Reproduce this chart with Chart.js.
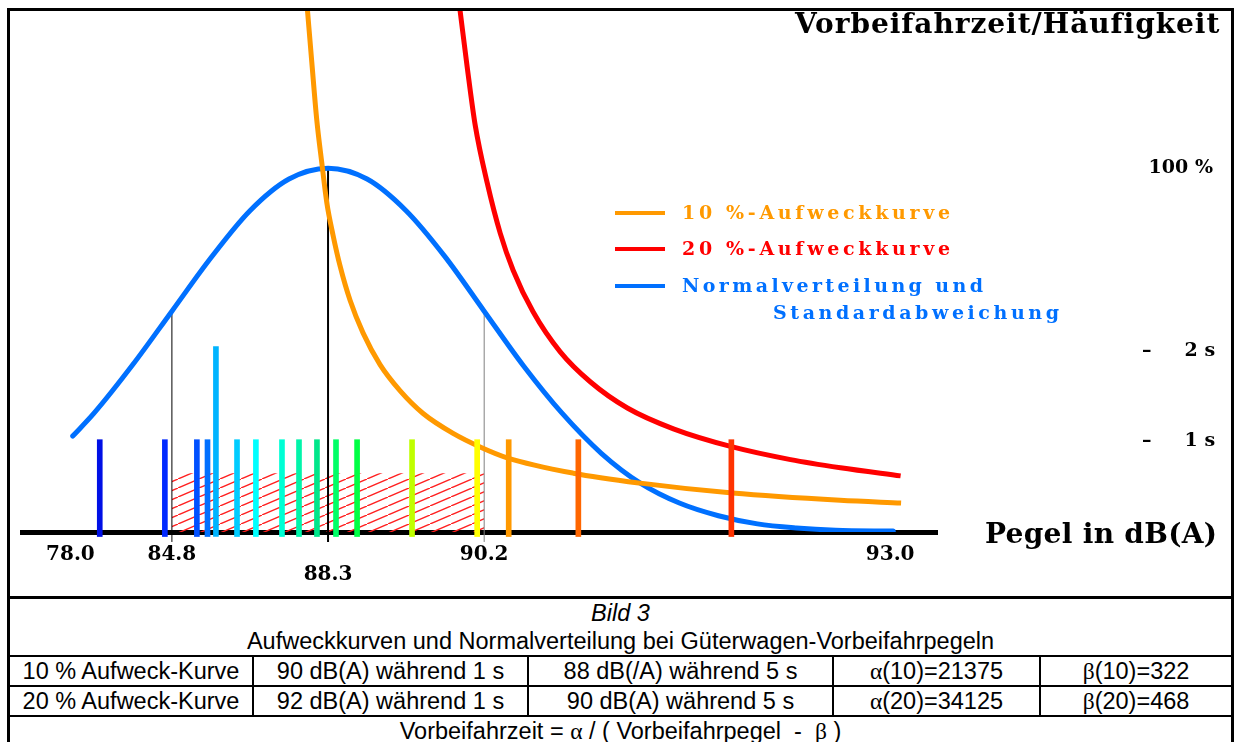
<!DOCTYPE html>
<html>
<head>
<meta charset="utf-8">
<script src="https://cdn.jsdelivr.net/npm/chart.js@4.4.0/dist/chart.umd.min.js"></script>
<style>
  body { margin: 0; background: #fff; }
  #frame { position: absolute; left: 7px; top: 8px; width: 1221px; border: 3px solid #000; border-bottom: none; }
  #plot { display: block; }
  table { border-collapse: collapse; width: 1221px; table-layout: fixed; font-family: "Liberation Sans", Arial, sans-serif; font-size: 23.5px; }
  td { border: 2px solid #000; text-align: center; padding: 0; white-space: nowrap; overflow: hidden; }
  td:first-child { border-left: none; }
  td:last-child { border-right: none; }
  tr:first-child td { border-top: 3px solid #000; }
  .gr { font-family: "Liberation Serif", serif; }
</style>
</head>
<body>
<div id="frame">
  <canvas id="plot" width="1221" height="585"></canvas>
  <table>
    <colgroup><col style="width:243px"><col style="width:275px"><col style="width:305px"><col style="width:207px"><col style="width:191px"></colgroup>
    <tr><td colspan="5" style="height:53px; line-height:28px;"><i>Bild 3</i><br>Aufweckkurven und Normalverteilung bei Güterwagen-Vorbeifahrpegeln</td></tr>
    <tr><td style="height:28px">10 % Aufweck-Kurve</td><td>90 dB(A) während 1 s</td><td>88 dB(/A) während 5 s</td><td><span class="gr">α</span>(10)=21375</td><td><span class="gr">β</span>(10)=322</td></tr>
    <tr><td style="height:28px">20 % Aufweck-Kurve</td><td>92 dB(A) während 1 s</td><td>90 dB(A) während 5 s</td><td><span class="gr">α</span>(20)=34125</td><td><span class="gr">β</span>(20)=468</td></tr>
    <tr><td colspan="5" style="height:28px">Vorbeifahrzeit = <span class="gr">α</span> / ( Vorbeifahrpegel &nbsp;- &nbsp;<span class="gr">β</span> )</td></tr>
  </table>
</div>
<script>
// x: level in standard deviations from the mean (88.3 dB(A)), y: pass-by time in s
const xTickPos = [-1.65, -1.0, 0, 1.0, 3.6];
const xTickLabels = ['78.0', '84.8', '88.3', '90.2', '93.0'];
const yTickPos = [1, 2, 4.02];
const yTickLabels = ['–     1 s', '–     2 s', ' 100 %'];

// normal distribution (peak = 100 %)
const normalX = [-1.635, -1.5, -1.25, -1, -0.75, -0.5, -0.25, 0, 0.25, 0.5, 0.75, 1, 1.25, 1.5, 1.75, 2, 2.25, 2.5, 2.75, 3, 3.25, 3.62];
const normalY = [1.06, 1.31, 1.85, 2.44, 3.03, 3.55, 3.90, 4.02, 3.90, 3.55, 3.04, 2.44, 1.84, 1.31, 0.87, 0.54, 0.32, 0.18, 0.09, 0.045, 0.02, 0.01];

// 10 % wake-up curve
const wake10X = [-0.132, -0.104, -0.072, -0.04, -0.008, 0.032, 0.077, 0.141, 0.224, 0.333, 0.462, 0.609, 0.801, 0.974, 1.147, 1.571, 2.0, 2.59, 3.28, 3.67];
const wake10Y = [5.77, 5.19, 4.55, 4.08, 3.64, 3.28, 2.94, 2.56, 2.2, 1.85, 1.56, 1.31, 1.09, 0.94, 0.82, 0.65, 0.54, 0.43, 0.35, 0.32];

// 20 % wake-up curve
const wake20X = [0.845, 0.891, 0.942, 1.019, 1.103, 1.186, 1.314, 1.487, 1.679, 1.917, 2.212, 2.59, 2.962, 3.282, 3.667];
const wake20Y = [5.77, 5.14, 4.50, 3.86, 3.30, 2.89, 2.43, 1.99, 1.66, 1.37, 1.14, 0.94, 0.80, 0.71, 0.62];

// single pass-by levels
const barX = [-1.462, -1.045, -0.84, -0.772, -0.718, -0.583, -0.462, -0.295, -0.186, -0.071, 0.051, 0.186, 0.538, 0.955, 1.157, 1.603, 2.583];
const barTop = [1.02, 1.02, 1.02, 1.02, 2.05, 1.02, 1.02, 1.02, 1.02, 1.02, 1.02, 1.02, 1.02, 1.02, 1.02, 1.02, 1.02];
const barColors = ['#0010e6', '#0028ff', '#0050ff', '#0070ff', '#00b4ff', '#00ccff', '#00ffff', '#00ffd5', '#00f5aa', '#00e68a', '#00ff66', '#00ff44', '#bfff00', '#ffff00', '#ff9900', '#ff6600', '#ff3300'];
const barBottom = -0.05;

// mean and +/- one standard deviation
const sigmaX = [-1, 0, 1];
const sigmaTop = [2.43, 4.02, 2.43];
const lineBottom = -0.11;

// hatched range mean +/- sigma
const hatchX = [-1, 1];
const hatchTop = 0.65;

function pts(xs, ys) {
  return xs.map((x, i) => ({ x: x, y: ys[i] }));
}

function hatchPattern() {
  const c = document.createElement('canvas');
  c.width = 21;
  c.height = 9;
  const g = c.getContext('2d');
  g.strokeStyle = '#ff2020';
  g.lineWidth = 1.4;
  g.beginPath();
  g.moveTo(0, 9);
  g.lineTo(21, 0);
  g.stroke();
  return g.createPattern(c, 'repeat');
}

const ctx = document.getElementById('plot').getContext('2d');

const datasets = [
  {
    type: 'bar',
    data: barX.map((x, i) => ({ x: x, y: [barBottom, barTop[i]] })),
    backgroundColor: barColors,
    barThickness: 5,
    clip: false,
    order: 0
  },
  { data: pts(wake20X, wake20Y), borderColor: '#ff0000', borderWidth: 5, cubicInterpolationMode: 'monotone', order: 1 },
  { data: pts(wake10X, wake10Y), borderColor: '#ff9900', borderWidth: 5, cubicInterpolationMode: 'monotone', order: 2 },
  { data: pts(normalX, normalY), borderColor: '#0070ff', borderWidth: 5, borderCapStyle: 'round', cubicInterpolationMode: 'monotone', order: 3 }
];

sigmaX.forEach((x, i) => {
  datasets.push({
    data: [{ x: x, y: lineBottom }, { x: x, y: sigmaTop[i] }],
    borderColor: x > 0 ? '#808080' : '#000',
    borderWidth: x === 0 ? 2 : 1,
    clip: false,
    order: 4
  });
});

datasets.push({
  data: hatchX.map(x => ({ x: x, y: hatchTop })),
  borderWidth: 0,
  borderColor: 'rgba(0,0,0,0)',
  backgroundColor: hatchPattern(),
  fill: 'origin',
  order: 5
});

function spacedText(c, text, left, cy, width, font, color) {
  c.save();
  c.font = font;
  c.fillStyle = color;
  c.textAlign = 'left';
  c.textBaseline = 'middle';
  c.letterSpacing = '0px';
  const w = c.measureText(text).width;
  c.letterSpacing = ((width - w) / (text.length - 1)) + 'px';
  c.fillText(text, left, cy);
  c.restore();
}

const legendItems = [
  { lines: ['10 %-Aufweckkurve'], color: '#ff9900' },
  { lines: ['20 %-Aufweckkurve'], color: '#ff0000' },
  { lines: ['Normalverteilung und', 'Standardabweichung'], color: '#0070ff' }
];

const annotations = {
  id: 'annotations',
  afterDraw(chart) {
    const c = chart.ctx;
    spacedText(c, 'Vorbeifahrzeit/Häufigkeit', 785, 15, 422, 'bold 28px "DejaVu Serif"', '#000');
    spacedText(c, 'Pegel in dB(A)', 975, 525, 232, 'bold 28px "DejaVu Serif"', '#000');

    const rows = [202, 238, 275];
    legendItems.forEach((item, i) => {
      c.save();
      c.strokeStyle = item.color;
      c.lineWidth = 4;
      c.beginPath();
      c.moveTo(605, rows[i]);
      c.lineTo(655, rows[i]);
      c.stroke();
      c.restore();
    });
    const font = 'bold 19px "DejaVu Serif"';
    spacedText(c, legendItems[0].lines[0], 672, 203, 268, font, legendItems[0].color);
    spacedText(c, legendItems[1].lines[0], 672, 239, 268, font, legendItems[1].color);
    spacedText(c, legendItems[2].lines[0], 672, 276, 301, font, legendItems[2].color);
    spacedText(c, legendItems[2].lines[1], 763, 303, 286, font, legendItems[2].color);
  }
};

new Chart(ctx, {
  type: 'line',
  data: { datasets: datasets },
  options: {
    responsive: false,
    animation: false,
    devicePixelRatio: 1,
    layout: { padding: { left: 12, top: 0, right: 0, bottom: 0 } },
    elements: { point: { radius: 0 }, line: { fill: false } },
    plugins: { legend: { display: false }, tooltip: { enabled: false } },
    scales: {
      x: {
        type: 'linear',
        min: -1.96,
        max: 3.9,
        offset: false,
        grid: { display: false, drawTicks: false },
        border: { display: true, color: '#000', width: 5 },
        afterBuildTicks: s => { s.ticks = xTickPos.map(v => ({ value: v })); },
        afterFit: s => { s.height = 64; s.paddingLeft = 0; s.paddingRight = 0; },
        ticks: {
          autoSkip: false,
          maxRotation: 0,
          padding: 13,
          color: '#000',
          font: { family: 'DejaVu Serif', weight: 'bold', size: 20, lineHeight: 1 },
          callback: v => {
            const label = xTickLabels[xTickPos.indexOf(v)];
            return v === 0 ? ['', label] : label;
          }
        }
      },
      y: {
        type: 'linear',
        position: 'right',
        min: 0,
        max: 5.757,
        grid: { display: false, drawTicks: false },
        border: { display: false },
        afterBuildTicks: s => { s.ticks = yTickPos.map(v => ({ value: v })); },
        afterFit: s => { s.width = 294; s.paddingTop = 0; s.paddingBottom = 0; },
        ticks: {
          padding: 205,
          crossAlign: 'near',
          color: '#000',
          font: { family: 'DejaVu Serif', weight: 'bold', size: 19 },
          callback: v => yTickLabels[yTickPos.indexOf(v)]
        }
      }
    }
  },
  plugins: [annotations]
});
</script>
</body>
</html>
